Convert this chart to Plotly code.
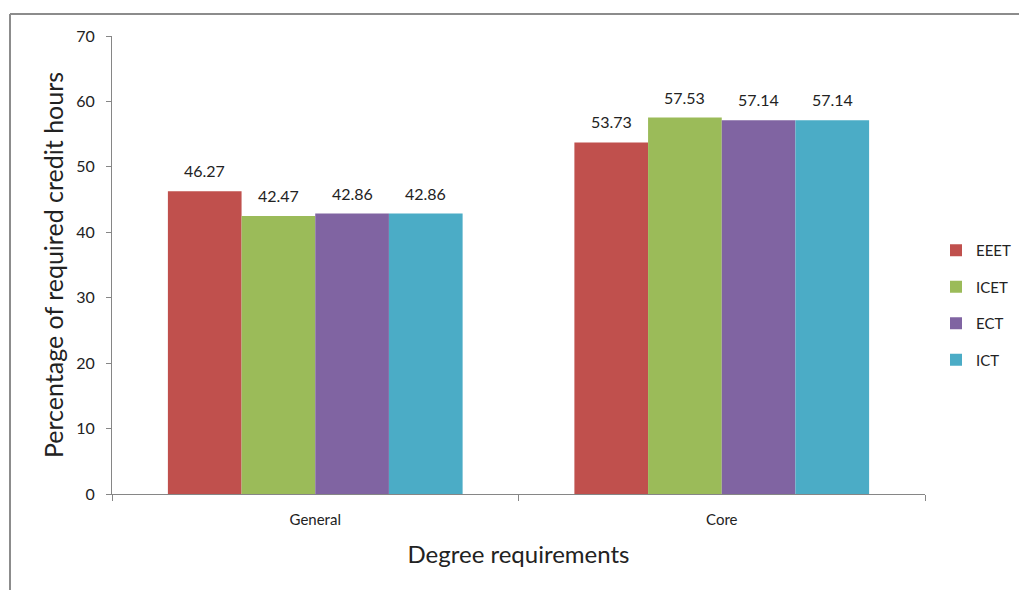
import plotly.graph_objects as go

categories = ["General", "Core"]
series_names = ["EEET", "ICET", "ECT", "ICT"]
eeet = [46.27, 53.73]
icet = [42.47, 57.53]
ect = [42.86, 57.14]
ict = [42.86, 57.14]
colors = ["#C0504D", "#9BBB59", "#8064A2", "#4BACC6"]
y_ticks = [0, 10, 20, 30, 40, 50, 60, 70]

FONT = "Lato, 'Open Sans', sans-serif"
W, H = 1019, 590
L, R, T, B = 112, 94, 36, 96
pw, ph = W - L - R, H - T - B
BARGAP = 0.275

all_series = [eeet, icet, ect, ict]
n = len(all_series)
bar_w = (1 - BARGAP) / n

fig = go.Figure()
for i, (name, vals) in enumerate(zip(series_names, all_series)):
    fig.add_trace(go.Bar(
        x=categories, y=vals, name=name,
        marker=dict(color=colors[i], line=dict(width=0)),
        cliponaxis=False,
        legendgroup=name,
    ))
    offset = -(1 - BARGAP) / 2 + bar_w * (i + 0.5)
    for ci, v in enumerate(vals):
        fig.add_annotation(x=ci + offset, y=v, xref="x", yref="y",
                           text=f"{v:.2f}", showarrow=False,
                           yanchor="bottom", yshift=9,
                           font=dict(family=FONT, size=16, color="#222"))

def px_x(v):
    return (v - L) / pw

def px_y(v):
    return (H - B - v) / ph

fig.add_shape(type="line", xref="paper", yref="paper",
              x0=px_x(10), x1=px_x(W + 5), y0=px_y(14), y1=px_y(14),
              line=dict(color="#8c8c8c", width=2))
fig.add_shape(type="line", xref="paper", yref="paper",
              x0=px_x(10), x1=px_x(10), y0=px_y(14), y1=px_y(H + 5),
              line=dict(color="#8c8c8c", width=2))

fig.update_layout(
    width=W, height=H,
    margin=dict(l=L, r=R, t=T, b=B, autoexpand=False),
    paper_bgcolor="white", plot_bgcolor="white",
    barmode="group", bargap=BARGAP, bargroupgap=0,
    font=dict(family=FONT, color="#222"),
    showlegend=True,
    legend=dict(x=px_x(936), xanchor="left", y=px_y(305), yanchor="middle",
                font=dict(family=FONT, size=15, color="#222"),
                tracegroupgap=14, itemwidth=30, traceorder="grouped"),
    xaxis=dict(
        showline=True, linecolor="#868686", linewidth=1,
        ticks="outside", tickson="boundaries", ticklen=6, tickcolor="#868686",
        tickfont=dict(family=FONT, size=15, color="#222"),
        ticklabelstandoff=12,
        title=dict(text="Degree requirements", font=dict(family=FONT, size=24, color="#222"), standoff=19),
    ),
    yaxis=dict(
        range=[0, 70], tickvals=y_ticks, showgrid=False, zeroline=False,
        showline=True, linecolor="#868686", linewidth=1,
        ticks="outside", ticklen=5, tickcolor="#868686",
        tickfont=dict(family=FONT, size=16, color="#222"),
        ticklabelstandoff=8,
        title=dict(text="Percentage of required credit hours", font=dict(family=FONT, size=25, color="#222"), standoff=5),
    ),
)

fig.write_html("out.html")
